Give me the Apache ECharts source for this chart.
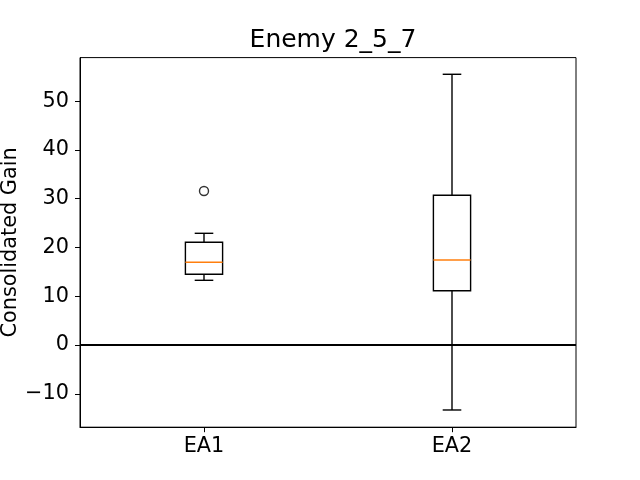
<!DOCTYPE html>
<html><head><meta charset="utf-8">
<script src="https://cdn.jsdelivr.net/npm/echarts@6/dist/echarts.min.js"></script>
<style>html,body{margin:0;padding:0;background:#fff}#c{width:640px;height:480px}</style>
</head><body><div id="c"></div>
<script>
const categories = ['EA1', 'EA2'];
const whiskerLow = [13.27, -13.33];
const q1 = [14.50, 11.14];
const median = [16.96, 17.44];
const q3 = [21.07, 30.71];
const whiskerHigh = [22.91, 55.53];
const outliers = [['EA1', 31.59]];
const yMin = -16.86, yMax = 58.95;
const yTickStep = 10;
const titleText = 'Enemy 2_5_7';
const yName = 'Consolidated Gain';

const FONT = 'DejaVu Sans';
const boxData = categories.map((c, i) => [i, whiskerLow[i], q1[i], median[i], q3[i], whiskerHigh[i]]);

function renderItem(params, api) {
  const x = api.value(0);
  const lo = api.coord([x, api.value(1)]);
  const b1 = api.coord([x, api.value(2)]);
  const md = api.coord([x, api.value(3)]);
  const b3 = api.coord([x, api.value(4)]);
  const hi = api.coord([x, api.value(5)]);
  const band = api.size([1, 0])[0];
  const hw = band * 0.075, cw = band * 0.0375;
  const cx = lo[0];
  const st = { stroke: '#000', lineWidth: 1.4, fill: null };
  return {
    type: 'group', children: [
      { type: 'rect', shape: { x: cx - hw, y: b3[1], width: 2 * hw, height: b1[1] - b3[1] }, style: { stroke: '#000', fill: 'none', lineWidth: 1.4 } },
      { type: 'line', shape: { x1: cx, y1: b3[1], x2: cx, y2: hi[1] }, style: st },
      { type: 'line', shape: { x1: cx, y1: b1[1], x2: cx, y2: lo[1] }, style: st },
      { type: 'line', shape: { x1: cx - cw, y1: hi[1], x2: cx + cw, y2: hi[1] }, style: st },
      { type: 'line', shape: { x1: cx - cw, y1: lo[1], x2: cx + cw, y2: lo[1] }, style: st },
      { type: 'line', shape: { x1: cx - hw, y1: md[1], x2: cx + hw, y2: md[1] }, style: { stroke: '#ff7f0e', lineWidth: 1.4 } }
    ]
  };
}

const chart = echarts.init(document.getElementById('c'), null, { renderer: 'canvas' });
chart.setOption({
  animation: false,
  backgroundColor: '#fff',
  textStyle: { fontFamily: FONT },
  title: {
    text: titleText, left: 328, top: 23, textAlign: 'center',
    textStyle: { fontFamily: FONT, fontSize: 25, fontWeight: 'normal', color: '#000' }
  },
  grid: { left: 80, right: 64, top: 57.6, bottom: 52.8, show: true, borderColor: '#000', borderWidth: 1, backgroundColor: 'transparent', containLabel: false, outerBoundsMode: 'none' },
  xAxis: {
    type: 'category', data: categories, boundaryGap: true,
    axisLine: { show: true, onZero: false, lineStyle: { color: '#000', width: 1 } },
    axisTick: { show: true, alignWithLabel: true, length: 5, lineStyle: { color: '#000', width: 1 } },
    axisLabel: { fontFamily: FONT, fontSize: 20.8, color: '#000', margin: 9 },
    splitLine: { show: false }
  },
  yAxis: {
    type: 'value', min: yMin, max: yMax, minInterval: yTickStep, maxInterval: yTickStep, splitNumber: 8,
    name: yName, nameLocation: 'middle', nameRotate: 90, nameGap: 59, nameMoveOverlap: false,
    nameTextStyle: { fontFamily: FONT, fontSize: 20.8, color: '#000' },
    axisLine: { show: true, lineStyle: { color: '#000', width: 1 } },
    axisTick: { show: true, length: 5, lineStyle: { color: '#000', width: 1 } },
    axisLabel: {
      fontFamily: FONT, fontSize: 20.8, color: '#000', margin: 11, showMinLabel: false, showMaxLabel: false,
      formatter: v => (v < 0 ? '\u2212' + Math.abs(v) : String(v))
    },
    splitLine: { show: false }
  },
  series: [
    {
      type: 'custom', renderItem: renderItem, data: boxData,
      encode: { x: 0, y: [1, 2, 3, 4, 5] }, silent: true, z: 3
    },
    {
      type: 'scatter', data: outliers, symbol: 'circle', symbolSize: 9,
      itemStyle: { color: 'rgba(0,0,0,0)', borderColor: '#000', borderWidth: 1.4 }, z: 4,
      markLine: {
        silent: true, symbol: ['none', 'none'], label: { show: false },
        lineStyle: { color: '#000', width: 2, type: 'solid' },
        data: [{ yAxis: 0 }]
      }
    }
  ]
});
</script>
</body></html>
